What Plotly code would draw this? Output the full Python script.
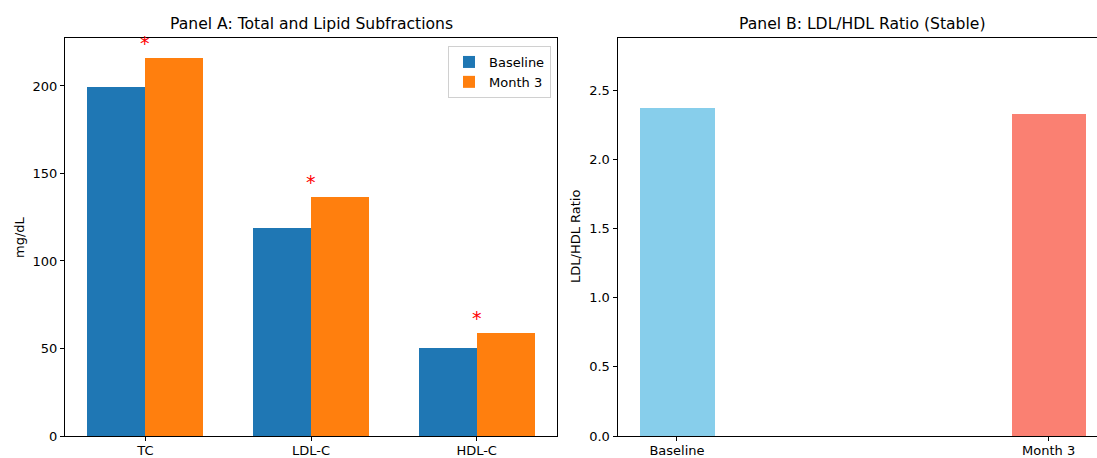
import plotly.graph_objects as go

# ---- data ----
categories = ["TC", "LDL-C", "HDL-C"]
baseline_vals = [199.5, 119.0, 50.3]
month3_vals = [216.0, 136.5, 59.0]
significant = [True, True, True]

ratio_labels = ["Baseline", "Month 3"]
ratio_vals = [2.37, 2.33]
ratio_colors = ["#87ceeb", "#fa8072"]

W, H = 1097, 458
L, R, T, B = 65, 0, 38, 22
pw = W - L - R
ph = H - T - B

def fx(px):
    return (px - L) / pw

def fy(py):
    return (H - B - py) / ph

FONT = "DejaVu Sans"
fig = go.Figure()

xidx = list(range(len(categories)))
bw = 0.35
fig.add_trace(go.Bar(x=[i - bw / 2 for i in xidx], y=baseline_vals, width=bw,
                     name="Baseline", marker=dict(color="#1f77b4", line=dict(width=0)),
                     xaxis="x", yaxis="y"))
fig.add_trace(go.Bar(x=[i + bw / 2 for i in xidx], y=month3_vals, width=bw,
                     name="Month 3", marker=dict(color="#ff7f0e", line=dict(width=0)),
                     xaxis="x", yaxis="y"))

rx = list(range(len(ratio_labels)))
fig.add_trace(go.Bar(x=rx, y=ratio_vals, width=0.2, showlegend=False,
                     marker=dict(color=ratio_colors, line=dict(width=0)),
                     xaxis="x2", yaxis="y2"))

annotations = []
for i, (v, s) in enumerate(zip(month3_vals, significant)):
    if s:
        annotations.append(dict(x=i, y=v + 5, xref="x", yref="y", text="*",
                                showarrow=False, yanchor="bottom", yshift=-7,
                                font=dict(family=FONT, size=19, color="red")))

annotations += [
    dict(x=1, y=fy(24), xref="x", yref="paper", text="Panel A: Total and Lipid Subfractions",
         showarrow=False, font=dict(family=FONT, size=15.6, color="black"), yanchor="middle"),
    dict(x=0.5, y=fy(24), xref="x2", yref="paper", text="Panel B: LDL/HDL Ratio (Stable)",
         showarrow=False, font=dict(family=FONT, size=15.6, color="black"), yanchor="middle"),
    dict(x=fx(19), y=fy(237), xref="paper", yref="paper", text="mg/dL", textangle=-90,
         showarrow=False, font=dict(family=FONT, size=13, color="black"), xanchor="center", yanchor="middle"),
    dict(x=fx(575), y=fy(237), xref="paper", yref="paper", text="LDL/HDL Ratio", textangle=-90,
         showarrow=False, font=dict(family=FONT, size=13, color="black"), xanchor="center", yanchor="middle"),
]

axis_common = dict(showgrid=False, zeroline=False, showline=True, linecolor="black", linewidth=1,
                   ticks="outside", ticklen=4, tickcolor="black", tickwidth=1,
                   tickfont=dict(family=FONT, size=13, color="black"))

fig.update_layout(
    width=W, height=H,
    margin=dict(l=L, r=R, t=T, b=B, autoexpand=False),
    paper_bgcolor="white", plot_bgcolor="white",
    barmode="overlay", bargap=0,
    font=dict(family=FONT, size=13, color="black"),
    xaxis=dict(domain=[0, fx(557)], range=[-0.485, 2.485], tickmode="array",
               tickvals=xidx, ticktext=categories, mirror=True, automargin=False,
               ticklabelstandoff=-2, **axis_common),
    yaxis=dict(domain=[0, 1], range=[0, 227.4], tickmode="array", tickvals=[0, 50, 100, 150, 200],
               mirror=True, automargin=False, **axis_common),
    xaxis2=dict(domain=[fx(617.5), 1], range=[-0.16, 1.13], tickmode="array",
                tickvals=rx, ticktext=ratio_labels, anchor="y2", mirror=True, automargin=False,
                ticklabelstandoff=-2, **axis_common),
    yaxis2=dict(domain=[0, 1], range=[0, 2.876], tickmode="array",
                tickvals=[0, 0.5, 1.0, 1.5, 2.0, 2.5], ticktext=["0.0", "0.5", "1.0", "1.5", "2.0", "2.5"],
                anchor="x2", automargin=False, **axis_common),
    legend=dict(x=fx(551), y=fy(46), xanchor="right", yanchor="top",
                bgcolor="rgba(255,255,255,0.8)", bordercolor="#d0d0d0", borderwidth=1,
                font=dict(family=FONT, size=13, color="black"), itemsizing="constant",
                tracegroupgap=2),
    annotations=annotations,
    showlegend=True,
)

fig.write_html("out.html", config={"displayModeBar": False},
               post_script="document.body.style.margin='0px';document.body.style.overflow='hidden';")
